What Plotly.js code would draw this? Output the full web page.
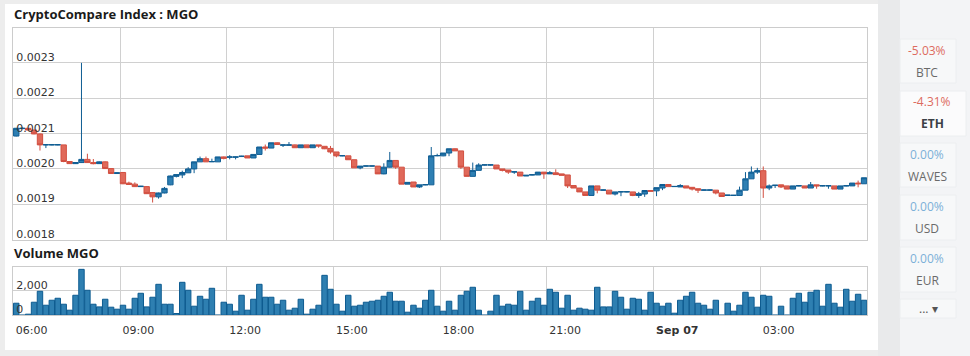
<!DOCTYPE html>
<html>
<head>
<meta charset="utf-8">
<script src="https://cdn.plot.ly/plotly-3.0.1.min.js"></script>
<style>
html,body{margin:0;padding:0;background:#ededed;}
#chart{width:970px;height:356px;}
</style>
</head>
<body>
<div id="chart"></div>
<script>
// ---- data (prices) ----
var startTime = '2018-09-06T06:05:00';
var openP = [0.002093,0.002114,0.002115,0.002110,0.002099,0.002068,0.002068,0.002068,0.002068,0.002021,0.002015,0.002018,0.002027,0.002018,0.002015,0.002020,0.002001,0.001987,0.001990,0.001960,0.001957,0.001950,0.001950,0.001933,0.001921,0.001932,0.001955,0.001979,0.001983,0.001989,0.002000,0.002020,0.002029,0.002020,0.002020,0.002034,0.002033,0.002033,0.002035,0.002037,0.002031,0.002041,0.002062,0.002059,0.002074,0.002067,0.002067,0.002068,0.002060,0.002068,0.002060,0.002068,0.002064,0.002058,0.002048,0.002037,0.002037,0.002026,0.002003,0.002008,0.002008,0.002008,0.001986,0.002005,0.002024,0.002005,0.001957,0.001963,0.001949,0.001955,0.001955,0.002037,0.002037,0.002045,0.002057,0.002051,0.002005,0.001979,0.001996,0.002011,0.002011,0.002011,0.002000,0.001997,0.001991,0.001991,0.001980,0.001983,0.001983,0.001991,0.001986,0.001989,0.001986,0.001983,0.001953,0.001946,0.001935,0.001925,0.001952,0.001940,0.001940,0.001929,0.001935,0.001935,0.001935,0.001925,0.001929,0.001939,0.001938,0.001946,0.001956,0.001950,0.001949,0.001952,0.001948,0.001944,0.001940,0.001940,0.001940,0.001932,0.001925,0.001925,0.001925,0.001940,0.001972,0.001991,0.001995,0.001946,0.001953,0.001955,0.001952,0.001943,0.001952,0.001952,0.001946,0.001955,0.001952,0.001952,0.001952,0.001943,0.001952,0.001952,0.001960,0.001958];
var highP = [0.002116,0.002118,0.002116,0.002111,0.002100,0.002069,0.002069,0.002069,0.002068,0.002022,0.002019,0.002300,0.002043,0.002028,0.002021,0.002021,0.002001,0.001990,0.001991,0.001964,0.001962,0.001952,0.001951,0.001934,0.001933,0.001949,0.001981,0.001984,0.001995,0.002005,0.002020,0.002035,0.002035,0.002029,0.002034,0.002035,0.002039,0.002035,0.002037,0.002037,0.002041,0.002062,0.002069,0.002074,0.002075,0.002068,0.002076,0.002069,0.002068,0.002068,0.002068,0.002068,0.002064,0.002065,0.002048,0.002038,0.002037,0.002026,0.002008,0.002009,0.002009,0.002008,0.002016,0.002048,0.002024,0.002005,0.001962,0.001963,0.001955,0.001956,0.002062,0.002043,0.002045,0.002057,0.002058,0.002051,0.002005,0.002018,0.002016,0.002012,0.002012,0.002011,0.002000,0.001997,0.001992,0.001991,0.001982,0.001984,0.001991,0.001991,0.001994,0.001999,0.001986,0.001983,0.001953,0.001946,0.001935,0.001952,0.001952,0.001941,0.001940,0.001935,0.001936,0.001936,0.001935,0.001935,0.001939,0.001939,0.001947,0.001956,0.001956,0.001951,0.001957,0.001952,0.001948,0.001944,0.001941,0.001941,0.001940,0.001932,0.001926,0.001926,0.001950,0.001991,0.002007,0.002003,0.002007,0.001956,0.001954,0.001955,0.001952,0.001952,0.001953,0.001952,0.001963,0.001955,0.001953,0.001953,0.001952,0.001952,0.001953,0.001960,0.001967,0.001975];
var lowP = [0.002092,0.002113,0.002109,0.002098,0.002052,0.002059,0.002067,0.002067,0.002019,0.002014,0.002014,0.002017,0.002017,0.002013,0.002014,0.002000,0.001986,0.001986,0.001957,0.001955,0.001949,0.001949,0.001929,0.001905,0.001916,0.001931,0.001954,0.001976,0.001974,0.001989,0.001988,0.002020,0.002020,0.002020,0.002020,0.002027,0.002027,0.002027,0.002035,0.002031,0.002031,0.002041,0.002052,0.002059,0.002069,0.002062,0.002067,0.002060,0.002060,0.002060,0.002060,0.002060,0.002056,0.002043,0.002033,0.002036,0.002026,0.002003,0.001999,0.002007,0.002007,0.001986,0.001985,0.002004,0.002000,0.001957,0.001957,0.001949,0.001946,0.001954,0.001955,0.002036,0.002036,0.002036,0.002051,0.002000,0.001979,0.001979,0.001996,0.002010,0.002010,0.002000,0.001993,0.001986,0.001986,0.001980,0.001980,0.001982,0.001983,0.001972,0.001986,0.001984,0.001982,0.001946,0.001946,0.001935,0.001925,0.001925,0.001931,0.001939,0.001929,0.001925,0.001923,0.001934,0.001923,0.001918,0.001921,0.001937,0.001923,0.001940,0.001950,0.001949,0.001949,0.001946,0.001939,0.001932,0.001939,0.001939,0.001928,0.001922,0.001924,0.001924,0.001925,0.001940,0.001972,0.001986,0.001918,0.001940,0.001946,0.001946,0.001943,0.001943,0.001951,0.001946,0.001946,0.001944,0.001951,0.001944,0.001943,0.001943,0.001951,0.001952,0.001948,0.001958];
var closeP = [0.002115,0.002115,0.002110,0.002099,0.002068,0.0020685,0.0020685,0.0020685,0.002021,0.002015,0.002018,0.002027,0.002018,0.002015,0.002020,0.002001,0.001987,0.001989,0.001958,0.001956,0.001950,0.001951,0.001930,0.001921,0.001932,0.001945,0.001980,0.001984,0.001990,0.002000,0.002020,0.002029,0.002020,0.002021,0.002034,0.002030,0.002034,0.002034,0.002036,0.002031,0.002041,0.002062,0.002059,0.002074,0.002069,0.002068,0.002068,0.002060,0.002068,0.002060,0.002068,0.002065,0.002057,0.002048,0.002037,0.0020375,0.002026,0.002003,0.002008,0.0020085,0.0020085,0.001986,0.002005,0.002024,0.002005,0.001957,0.001962,0.001949,0.001955,0.0019555,0.002037,0.002038,0.002045,0.002057,0.002051,0.002005,0.001979,0.001996,0.002011,0.0020115,0.0020115,0.002000,0.001996,0.001991,0.001992,0.001980,0.001982,0.0019835,0.001991,0.001986,0.001989,0.001984,0.001982,0.001952,0.001946,0.001935,0.001925,0.001952,0.001940,0.0019405,0.001929,0.001935,0.0019355,0.0019355,0.001925,0.001930,0.001939,0.001937,0.001947,0.001956,0.001950,0.0019505,0.001953,0.001946,0.001943,0.001940,0.0019405,0.0019405,0.001932,0.001922,0.001926,0.0019255,0.001940,0.001972,0.001991,0.001995,0.001946,0.001952,0.001954,0.001949,0.001943,0.001952,0.0019525,0.001946,0.001955,0.001952,0.0019525,0.0019525,0.001943,0.001952,0.0019525,0.001960,0.001958,0.001975];
var volume = [986,0,82,1068,1973,822,1233,1397,904,411,1644,3781,2055,904,685,1315,658,493,822,493,1397,1808,685,1480,2548,904,904,137,2713,2055,740,1562,1315,2219,0,1068,904,329,1644,411,1315,2548,1480,1480,904,1233,411,575,1315,82,493,822,3288,2137,904,329,1644,740,822,1068,1151,1233,1562,1891,1151,1151,247,822,575,1233,2055,740,329,1151,411,1644,1973,2302,411,0,329,1644,740,904,822,1973,411,1151,1397,822,2137,1891,575,1644,411,575,493,411,2302,685,685,1973,1480,493,1397,1315,411,1891,986,740,986,164,1233,1562,1891,986,822,493,1233,0,986,329,822,1891,1480,658,1644,1562,0,740,0,1397,1808,1068,1891,2055,740,2548,986,658,2137,1151,1726,1233];

var xTickVals = ['2018-09-06 06:00','2018-09-06 09:00','2018-09-06 12:00','2018-09-06 15:00','2018-09-06 18:00','2018-09-06 21:00','2018-09-07 00:00','2018-09-07 03:00'];
var xTickText = ['06:00','09:00','12:00','15:00','18:00','21:00','<b>Sep 07</b>','03:00'];
var priceTickVals = [0.0018,0.0019,0.0020,0.0021,0.0022,0.0023];
var priceTickText = ['0.0018','0.0019','0.0020','0.0021','0.0022','0.0023'];
var volTickVals = [0,2000];
var volTickText = ['0','2,000'];

var currencies = ['BTC','ETH','WAVES','USD','EUR'];
var changes = ['-5.03%','-4.31%','0.00%','0.00%','0.00%'];

// 10-minute candle times
var times = [];
(function(){
  var t0 = new Date(startTime + 'Z').getTime();
  for (var i = 0; i < openP.length; i++) {
    var d = new Date(t0 + i * 600000);
    times.push(d.toISOString().replace('T',' ').slice(0,19));
  }
})();

// ---- helpers for page-pixel positioning ----
var W = 970, H = 356;
function px(x){ return x / W; }
function py(y){ return 1 - y / H; }

var upFill = '#2e7fb3', upLine = '#0f5d93';
var dnFill = '#e0695a', dnLine = '#d24f40';

var traces = [
  {
    type: 'candlestick', x: times, open: openP, high: highP, low: lowP, close: closeP,
    xaxis: 'x', yaxis: 'y',
    increasing: { fillcolor: upFill, line: { color: upLine, width: 1 } },
    decreasing: { fillcolor: dnFill, line: { color: dnLine, width: 1 } },
    whiskerwidth: 0, hoverinfo: 'skip'
  },
  {
    type: 'bar', x: times, y: volume, xaxis: 'x', yaxis: 'y2',
    marker: { color: '#2e7fb1', line: { color: '#0d5b90', width: 1 } },
    hoverinfo: 'skip'
  }
];

var gridC = '#d0d0d0';
var tickFont = { family: 'DejaVu Sans', size: 11, color: '#333333' };

var shapes = [
  // white card
  { type: 'rect', xref: 'paper', yref: 'paper', x0: px(5), x1: px(878), y0: py(350), y1: py(4), fillcolor: '#ffffff', line: { width: 0 }, layer: 'below' },
  // gray band
  { type: 'rect', xref: 'paper', yref: 'paper', x0: px(878), x1: px(900), y0: 0, y1: 1, fillcolor: '#e9eaeb', line: { width: 0 }, layer: 'below' },
  // right panel
  { type: 'rect', xref: 'paper', yref: 'paper', x0: px(900), x1: 1, y0: 0, y1: 1, fillcolor: '#f3f4f6', line: { width: 0 }, layer: 'below' }
];

var btnBoxes = [[39,83,956],[91,136,966],[143,187,956],[195,240,956],[247,292,956]];
var annotations = [
  { text: 'CryptoCompare Index : MGO', xref: 'paper', yref: 'paper', x: px(12), y: py(14), xanchor: 'left', yanchor: 'middle', showarrow: false, font: { family: 'Open Sans', size: 13, weight: 700, color: '#1b1b1b' } },
  { text: 'Volume MGO', xref: 'paper', yref: 'paper', x: px(12), y: py(253), xanchor: 'left', yanchor: 'middle', showarrow: false, font: { family: 'Open Sans', size: 13, weight: 700, color: '#1b1b1b' } }
];

for (var b = 0; b < currencies.length; b++) {
  var bx = btnBoxes[b];
  var active = (currencies[b] === 'ETH');
  shapes.push({ type: 'rect', xref: 'paper', yref: 'paper', x0: px(900), x1: px(bx[2]), y0: py(bx[1]), y1: py(bx[0]),
    fillcolor: active ? '#fbfbfc' : '#f7f8f9', line: { color: '#eceef0', width: 1 }, layer: 'below' });
  var cx = (900 + bx[2]) / 2;
  var neg = changes[b].charAt(0) === '-';
  annotations.push({ text: changes[b], xref: 'paper', yref: 'paper', x: px(cx - 1), y: py(bx[0] + 11), xanchor: 'center', yanchor: 'middle', showarrow: false,
    font: { family: 'Open Sans', size: 12, color: neg ? '#dd6b5f' : '#7cb0d8' } });
  annotations.push({ text: active ? '<b>' + currencies[b] + '</b>' : currencies[b], xref: 'paper', yref: 'paper', x: px(cx - 1), y: py(bx[0] + 33), xanchor: 'center', yanchor: 'middle', showarrow: false,
    font: { family: 'Open Sans', size: 12, color: active ? '#3b4046' : '#6a6a6a' } });
}
// dropdown button
shapes.push({ type: 'rect', xref: 'paper', yref: 'paper', x0: px(900), x1: px(956), y0: py(318), y1: py(299), fillcolor: '#f7f8f9', line: { color: '#eceef0', width: 1 }, layer: 'below' });
annotations.push({ text: '... \u25BE', xref: 'paper', yref: 'paper', x: px(928), y: py(308), xanchor: 'center', yanchor: 'middle', showarrow: false, font: { family: 'Open Sans', size: 12, color: '#555555' } });

var layout = {
  width: W, height: H,
  margin: { l: 0, r: 0, t: 0, b: 0 },
  paper_bgcolor: '#ededed', plot_bgcolor: '#ffffff',
  showlegend: false, dragmode: false, hovermode: false,
  boxgap: 0.1, boxgroupgap: 0, bargap: 0.08,
  xaxis: {
    type: 'date', domain: [px(13), px(867)], anchor: 'y2',
    range: ['2018-09-06 05:59:30', '2018-09-07 06:00'],
    tickmode: 'array', tickvals: xTickVals, ticktext: xTickText,
    ticklabelposition: 'outside right', ticks: '', ticklabelstandoff: 4, ticklabelshift: 2,
    ticklabeloverflow: 'allow',
    showgrid: true, gridcolor: gridC, gridwidth: 1, zeroline: false,
    showline: true, linecolor: '#cccccc', linewidth: 1, mirror: 'all',
    tickfont: tickFont, rangeslider: { visible: false }, fixedrange: true
  },
  yaxis: {
    domain: [1 - 240 / H, 1 - 27.5 / H], anchor: 'x',
    range: [0.001799, 0.0024],
    tickmode: 'array', tickvals: priceTickVals, ticktext: priceTickText,
    ticklabelposition: 'inside top', ticks: '', ticklabelstandoff: 2, ticklabelshift: 2,
    ticklabeloverflow: 'allow',
    showgrid: true, gridcolor: gridC, zeroline: false,
    showline: true, linecolor: '#cccccc', linewidth: 1, mirror: true,
    tickfont: tickFont, fixedrange: true
  },
  yaxis2: {
    domain: [1 - 315.3 / H, 1 - 266.7 / H], anchor: 'x',
    range: [-10, 4000],
    tickmode: 'array', tickvals: volTickVals, ticktext: volTickText,
    ticklabelposition: 'inside top', ticks: '', ticklabelstandoff: 2, ticklabelshift: 2,
    ticklabeloverflow: 'allow',
    showgrid: true, gridcolor: gridC, zeroline: false,
    showline: true, linecolor: '#cccccc', linewidth: 1, mirror: true,
    tickfont: tickFont, fixedrange: true
  },
  shapes: shapes,
  annotations: annotations
};

Plotly.newPlot('chart', traces, layout, { displayModeBar: false, staticPlot: true });
</script>
</body>
</html>
